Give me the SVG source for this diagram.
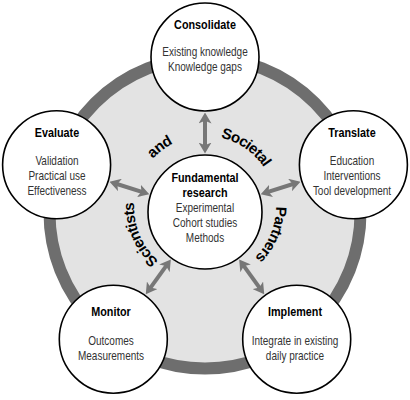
<svg xmlns="http://www.w3.org/2000/svg" width="410" height="400" viewBox="0 0 410 400">
<style>
text{font-family:"Liberation Sans",Arial,sans-serif;fill:#111;text-anchor:middle}
.t{font-size:13.5px;font-weight:bold;fill:#000}
.b{font-size:12.5px;fill:#333}
.node{fill:#fff;stroke:#000;stroke-width:1.6}
.arr{stroke:#777;stroke-width:4;fill:none;marker-start:url(#ah);marker-end:url(#ah)}
.c{font-size:15px;font-weight:bold;fill:#000;letter-spacing:-0.6px}
</style>
<defs>
<marker id="ah" viewBox="0 0 11 13" refX="6.5" refY="6.5" markerWidth="11" markerHeight="13" markerUnits="userSpaceOnUse" orient="auto-start-reverse">
<path d="M0,0 L11,6.5 L0,13 L2.8,6.5 Z" fill="#777"/>
</marker>
<path id="tp" d="M276,207 A71,71 0 1 1 134,207 A71,71 0 1 1 276,207"/>
</defs>
<g id="ring">
<circle cx="205" cy="213" r="155.5" fill="#e3e3e3" stroke="#6e6e6e" stroke-width="12"/>
</g>
<g id="connectors">
<line class="arr" x1="205" y1="117" x2="205" y2="149"/>
<line class="arr" x1="145" y1="192.9" x2="113.8" y2="183"/>
<line class="arr" x1="265" y1="192.9" x2="296.2" y2="183"/>
<line class="arr" x1="168.2" y1="263.1" x2="148.4" y2="290.6"/>
<line class="arr" x1="241.8" y1="263.1" x2="261.6" y2="290.6"/>
</g>
<g id="ringtext">
<text class="c"><textPath href="#tp" startOffset="6.2%">Partners</textPath></text>
<text class="c"><textPath href="#tp" startOffset="43.6%">Scientists</textPath></text>
<text class="c"><textPath href="#tp" startOffset="64.7%">and</textPath></text>
<text class="c"><textPath href="#tp" startOffset="84.5%">Societal</textPath></text>
</g>
<g id="consolidate">
<circle class="node" cx="205" cy="57" r="54"/>
<g transform="translate(205,0) scale(0.8,1)">
<text class="t" x="0" y="29">Consolidate</text>
<text class="b" x="0" y="56">Existing knowledge</text>
<text class="b" x="0" y="71">Knowledge gaps</text>
</g>
</g>
<g id="evaluate">
<circle class="node" cx="56.6" cy="164.8" r="54"/>
<g transform="translate(57,0) scale(0.8,1)">
<text class="t" x="0" y="137">Evaluate</text>
<text class="b" x="0" y="165">Validation</text>
<text class="b" x="0" y="180">Practical use</text>
<text class="b" x="0" y="195">Effectiveness</text>
</g>
</g>
<g id="translate">
<circle class="node" cx="353.4" cy="164.8" r="54"/>
<g transform="translate(352,0) scale(0.8,1)">
<text class="t" x="0" y="137">Translate</text>
<text class="b" x="0" y="165">Education</text>
<text class="b" x="0" y="180">Interventions</text>
<text class="b" x="0" y="195">Tool development</text>
</g>
</g>
<g id="monitor">
<circle class="node" cx="113.3" cy="339.2" r="54"/>
<g transform="translate(111,0) scale(0.8,1)">
<text class="t" x="0" y="316">Monitor</text>
<text class="b" x="0" y="345">Outcomes</text>
<text class="b" x="0" y="360">Measurements</text>
</g>
</g>
<g id="implement">
<circle class="node" cx="296.7" cy="339.2" r="54"/>
<g transform="translate(295,0) scale(0.8,1)">
<text class="t" x="0" y="316">Implement</text>
<text class="b" x="0" y="345">Integrate in existing</text>
<text class="b" x="0" y="360">daily practice</text>
</g>
</g>
<g id="fundamental">
<circle class="node" cx="205" cy="212" r="57"/>
<g transform="translate(205,0) scale(0.8,1)">
<text class="t" x="0" y="182">Fundamental</text>
<text class="t" x="0" y="197">research</text>
<text class="b" x="0" y="212">Experimental</text>
<text class="b" x="0" y="227">Cohort studies</text>
<text class="b" x="0" y="242">Methods</text>
</g>
</g>
</svg>
